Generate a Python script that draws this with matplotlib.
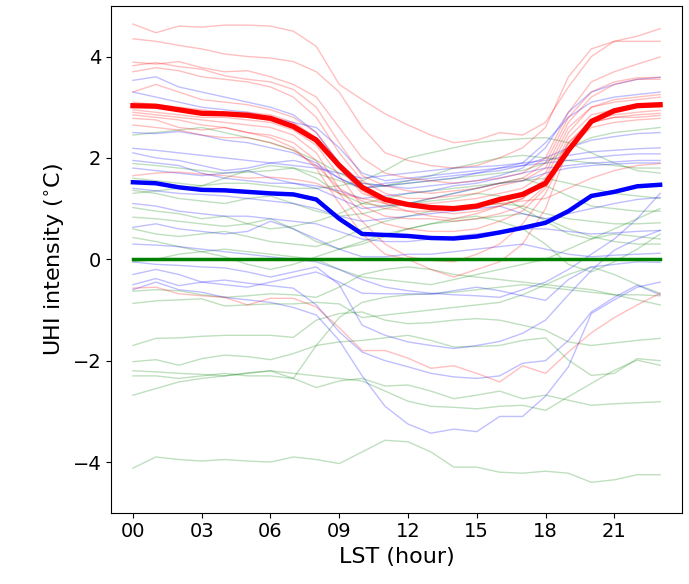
import numpy as np
import matplotlib
matplotlib.use("Agg")
import matplotlib.pyplot as plt

# hours of the day (LST)
hours = np.arange(24)
xtick_pos = [0, 3, 6, 9, 12, 15, 18, 21]
xtick_labels = ['00', '03', '06', '09', '12', '15', '18', '21']

# mean diurnal curves (thick lines)
red_mean = [3.03, 3.02, 2.95, 2.88, 2.87, 2.84, 2.78, 2.62, 2.35, 1.85, 1.42, 1.18,
            1.08, 1.02, 1.0, 1.05, 1.18, 1.28, 1.5, 2.15, 2.72, 2.93, 3.03, 3.05]
blue_mean = [1.52, 1.5, 1.42, 1.37, 1.36, 1.33, 1.3, 1.28, 1.18, 0.8, 0.5, 0.48,
             0.46, 0.42, 0.41, 0.45, 0.53, 0.62, 0.72, 0.95, 1.25, 1.33, 1.44, 1.47]
green_mean = [0.0] * 24

# individual stations, red group
red_lines = [
    [4.64, 4.47, 4.6, 4.58, 4.62, 4.62, 4.6, 4.5, 4.2, 3.45, 3.15, 2.87, 2.65, 2.45, 2.3, 2.35, 2.5, 2.45, 2.7, 3.4, 4.0, 4.3, 4.4, 4.55],
    [4.35, 4.3, 4.22, 4.15, 4.05, 4.0, 3.97, 3.9, 3.7, 3.3, 2.6, 2.1, 1.95, 1.85, 1.8, 1.85, 2.0, 2.2, 2.6, 3.6, 4.15, 4.3, 4.3, 4.3],
    [3.89, 3.85, 3.9, 3.78, 3.7, 3.72, 3.6, 3.45, 3.2, 2.6, 2.0, 1.7, 1.6, 1.55, 1.5, 1.55, 1.6, 1.7, 2.0, 2.9, 3.5, 3.7, 3.85, 3.99],
    [3.82, 3.88, 3.8, 3.75, 3.62, 3.55, 3.5, 3.35, 3.0, 2.3, 1.65, 1.45, 1.35, 1.3, 1.35, 1.4, 1.5, 1.6, 1.9, 2.8, 3.3, 3.5, 3.58, 3.59],
    [3.7, 3.78, 3.72, 3.6, 3.55, 3.5, 3.4, 3.2, 2.8, 2.1, 1.55, 1.3, 1.2, 1.2, 1.25, 1.3, 1.45, 1.55, 1.8, 2.7, 3.2, 3.45, 3.55, 3.55],
    [3.3, 3.45, 3.3, 3.15, 3.1, 3.05, 2.95, 2.8, 2.5, 1.9, 1.35, 1.1, 0.95, 0.85, 0.8, 0.9, 1.05, 1.2, 1.6, 2.5, 3.0, 3.15, 3.2, 3.25],
    [2.9, 2.85, 2.8, 2.75, 2.7, 2.65, 2.6, 2.45, 2.1, 1.4, 0.9, 0.7, 0.6, 0.55, 0.55, 0.6, 0.75, 0.95, 1.4, 2.3, 2.75, 2.85, 2.9, 2.94],
    [2.85, 2.8, 2.75, 2.65, 2.6, 2.5, 2.4, 2.2, 1.8, 1.1, 0.5, 0.1, 0.0, -0.2, -0.35, -0.2, -0.05, 0.3, 1.0, 2.2, 2.7, 2.8, 2.8, 2.84],
    [2.78, 2.75, 2.6, 2.55, 2.6, 2.5, 2.45, 2.3, 1.95, 1.3, 0.75, 0.3, 0.05, -0.02, -0.05, 0.1, 0.3, 0.7, 1.3, 2.2, 2.6, 2.7, 2.75, 2.78],
    [2.65, 2.6, 2.55, 2.45, 2.4, 2.4, 2.3, 2.15, 1.85, 1.4, 1.15, 1.0, 0.95, 0.95, 0.9, 0.95, 1.05, 1.2, 1.5, 2.3, 2.7, 2.8, 2.85, 2.88],
    [1.65, 1.7, 1.72, 1.68, 1.65, 1.6, 1.62, 1.58, 1.5, 1.3, 1.2, 1.1, 1.05, 1.0, 1.0, 1.05, 1.1, 1.15, 1.2, 1.4, 1.6, 1.75, 1.85, 1.89],
    [-0.57, -0.55, -0.68, -0.72, -0.75, -0.9, -0.77, -0.77, -0.94, -1.35, -1.8, -1.8, -1.95, -2.15, -2.1, -2.25, -2.42, -2.1, -2.25, -1.83, -1.45, -1.15, -0.9, -0.67],
    [3.1, 3.05, 3.0, 2.95, 2.9, 2.9, 2.85, 2.7, 2.4, 1.8, 1.3, 1.15, 1.1, 1.1, 1.15, 1.2, 1.3, 1.4, 1.7, 2.6, 3.0, 3.1, 3.15, 3.2],
    [2.95, 2.9, 2.85, 2.8, 2.8, 2.75, 2.7, 2.55, 2.25, 1.65, 1.05, 0.85, 0.8, 0.8, 0.75, 0.8, 0.9, 1.05, 1.45, 2.4, 2.85, 2.95, 3.0, 3.0],
]

# individual stations, blue group
blue_lines = [
    [-0.6, -0.45, -0.6, -0.65, -0.75, -0.8, -0.85, -0.95, -1.1, -1.6, -2.3, -2.9, -3.25, -3.43, -3.35, -3.4, -3.1, -3.1, -2.7, -2.12, -1.07, -0.8, -0.55, -0.45],
    [-0.5, -0.38, -0.52, -0.45, -0.41, -0.47, -0.52, -0.57, -0.9, -1.43, -1.83, -2.0, -2.12, -2.25, -2.32, -2.35, -2.3, -2.05, -2.0, -1.6, -1.04, -0.75, -0.51, -0.7],
    [-0.05, -0.1, -0.12, -0.15, -0.17, -0.25, -0.35, -0.25, -0.15, -0.5, -1.3, -1.5, -1.63, -1.7, -1.76, -1.7, -1.62, -1.46, -1.2, -0.7, -0.22, 0.18, 0.4, 0.57],
    [-0.3, -0.2, -0.3, -0.45, -0.5, -0.55, -0.45, -0.35, -0.25, -0.45, -0.67, -0.68, -0.68, -0.69, -0.62, -0.55, -0.62, -0.72, -0.81, -0.4, -0.15, -0.1, -0.05, -0.06],
    [3.53, 3.6, 3.4, 3.3, 3.2, 3.1, 3.0, 2.85, 2.5, 1.9, 1.5, 1.45, 1.4, 1.45, 1.5, 1.55, 1.65, 1.8, 2.2, 2.9, 3.3, 3.45, 3.55, 3.59],
    [3.3, 3.2, 3.1, 3.0, 2.95, 2.9, 2.8, 2.7, 2.6, 2.2, 1.7, 1.55, 1.6, 1.65, 1.7, 1.75, 1.8, 1.9, 2.3, 2.8, 3.1, 3.2, 3.25, 3.3],
    [2.5, 2.48, 2.52, 2.45, 2.35, 2.3, 2.2, 2.1, 1.9, 1.6, 1.4, 1.5, 1.55, 1.6, 1.65, 1.7, 1.75, 1.85, 2.0, 2.2, 2.35, 2.42, 2.48, 2.5],
    [2.19, 2.15, 2.1, 2.05, 2.0, 1.95, 1.9, 1.85, 1.8, 1.7, 1.6, 1.65, 1.7, 1.75, 1.8, 1.82, 1.85, 1.9, 1.95, 2.05, 2.12, 2.15, 2.18, 2.2],
    [2.1, 2.0, 1.95, 1.85, 1.75, 1.8, 1.9, 1.95, 1.85, 1.6, 1.4, 1.45, 1.5, 1.55, 1.6, 1.7, 1.8, 1.85, 1.9, 1.95, 2.0, 2.05, 2.08, 2.08],
    [1.95, 1.9, 1.85, 1.7, 1.6, 1.55, 1.5, 1.5, 1.45, 1.35, 1.2, 1.25, 1.3, 1.35, 1.45, 1.5, 1.6, 1.7, 1.8, 1.85, 1.9, 1.92, 1.95, 1.95],
    [1.8, 1.75, 1.7, 1.65, 1.7, 1.75, 1.6, 1.5, 1.4, 1.2, 1.0, 1.05, 1.1, 1.2, 1.3, 1.4, 1.5, 1.55, 1.7, 1.8, 1.85, 1.88, 1.9, 1.9],
    [1.4, 1.35, 1.3, 1.28, 1.25, 1.2, 1.15, 1.1, 1.0, 0.85, 0.75, 0.8, 0.85, 0.9, 0.95, 1.0, 1.05, 0.9, 0.8, 0.9, 1.0, 1.1, 1.18, 1.22],
    [1.1, 1.05, 0.95, 0.9, 0.85, 0.85, 0.8, 0.75, 0.7, 0.55, 0.4, 0.35, 0.35, 0.4, 0.45, 0.5, 0.55, 0.6, 0.6, 0.55, 0.5, 0.52, 0.55, 0.57],
    [0.63, 0.7, 0.6, 0.55, 0.5, 0.55, 0.75, 0.6, 0.4, 0.2, 0.05, 0.05, 0.1, 0.1, 0.15, 0.2, 0.25, 0.3, 0.2, 0.1, 0.05, 0.08, 0.1, 0.12],
    [0.3, 0.28, 0.25, 0.2, 0.15, 0.1, 0.05, 0.0, -0.05, -0.2, -0.4, -0.55, -0.62, -0.67, -0.7, -0.72, -0.75, -0.6, -0.45, -0.2, 0.1, 0.4, 0.8, 1.3],
]

# individual stations, green group
green_lines = [
    [-4.12, -3.9, -3.95, -3.98, -3.95, -3.98, -4.0, -3.9, -3.95, -4.03, -3.8, -3.57, -3.6, -3.8, -4.1, -4.1, -4.2, -4.22, -4.18, -4.22, -4.4, -4.35, -4.25, -4.25],
    [-1.7, -1.56, -1.55, -1.52, -1.5, -1.5, -1.5, -1.54, -1.2, -1.07, -1.04, -1.2, -1.27, -1.25, -1.2, -1.17, -1.2, -1.3, -1.4, -1.63, -1.7, -1.65, -1.6, -1.56],
    [-2.02, -1.98, -2.09, -1.96, -1.89, -1.92, -1.98, -1.86, -1.7, -1.63, -1.6, -1.55, -1.5, -1.6, -1.73, -1.72, -1.7, -1.6, -1.55, -1.99, -2.29, -2.25, -1.96, -2.0],
    [-2.2, -2.22, -2.25, -2.27, -2.3, -2.24, -2.2, -2.35, -2.53, -2.4, -2.35, -2.5, -2.48, -2.6, -2.75, -2.68, -2.6, -2.75, -2.68, -2.78, -2.88, -2.85, -2.83, -2.81],
    [-2.3, -2.3, -2.35, -2.3, -2.25, -2.3, -2.3, -2.35, -1.7, -1.15, -0.85, -0.75, -0.7, -0.68, -0.65, -0.6, -0.55, -0.5, -0.55, -0.6, -0.65, -0.7, -0.7, -0.72],
    [-2.68, -2.55, -2.42, -2.35, -2.3, -2.25, -2.2, -2.25, -2.3, -2.35, -2.4, -2.6, -2.8, -2.9, -2.92, -2.95, -2.9, -2.88, -2.98, -2.71, -2.45, -2.19, -1.99, -2.09],
    [-0.63, -0.6, -0.62, -0.7, -0.75, -0.72, -0.68, -0.7, -0.75, -0.55, -0.3, -0.2, -0.15, -0.2, -0.3, -0.35, -0.4, -0.45, -0.5, -0.55, -0.6, -0.7, -0.8, -0.9],
    [-0.87, -0.82, -0.8, -0.78, -0.92, -0.9, -0.88, -0.88, -0.85, -0.88, -1.15, -1.1, -1.05, -1.0, -0.95, -0.9, -0.85, -0.7, -0.5, -0.3, -0.15, -0.3, -0.5, -0.67],
    [-0.05, 0.0, 0.1, 0.15, 0.2, 0.15, 0.1, 0.05, 0.0, -0.2, -0.35, -0.4, -0.45, -0.5, -0.4, -0.3, -0.2, -0.1, 0.0, 0.2, 0.4, 0.5, 0.45, 0.4],
    [2.45, 2.5, 2.55, 2.6, 2.5, 2.4, 2.3, 2.15, 1.95, 1.7, 1.5, 1.45, 1.5, 1.55, 1.6, 1.65, 1.7, 1.75, 1.9, 2.2, 2.4, 2.5, 2.55, 2.6],
    [1.89, 1.85, 1.8, 1.75, 1.7, 1.72, 1.75, 1.8, 1.7, 1.55, 1.4, 1.45, 1.55, 1.65, 1.8, 1.9, 2.0, 2.05, 2.0, 1.95, 1.9, 1.85, 1.8, 1.8],
    [1.3, 1.35, 1.4, 1.45, 1.5, 1.5, 1.45, 1.4, 1.4, 1.45, 1.55, 1.75, 2.0, 2.1, 2.2, 2.3, 2.35, 2.38, 2.4, 2.3, 2.1, 1.9, 1.75, 1.7],
    [1.36, 1.3, 1.2, 1.15, 1.1, 1.2, 1.25, 1.1, 0.95, 0.85, 0.9, 1.0, 1.1, 1.2, 1.3, 1.4, 1.5, 1.55, 1.6, 1.5, 1.4, 1.3, 1.25, 1.2],
    [1.02, 0.95, 0.9, 0.8, 0.85, 0.7, 0.6, 0.65, 0.75, 0.9, 1.1, 1.2, 1.3, 1.35, 1.4, 1.45, 1.5, 1.6, 1.45, 1.25, 1.05, 1.0, 0.95, 0.95],
    [0.83, 0.8, 0.75, 0.7, 0.65, 0.7, 0.8, 0.6, 0.35, 0.2, 0.3, 0.45, 0.6, 0.7, 0.75, 0.8, 0.85, 0.9, 0.8, 0.6, 0.45, 0.35, 0.3, 0.3],
    [0.6, 0.5, 0.45, 0.5, 0.55, 0.45, 0.35, 0.3, 0.25, 0.4, 0.6, 0.75, 0.85, 0.95, 1.0, 1.05, 1.1, 1.05, 0.9, 0.8, 0.75, 0.7, 0.7, 0.72],
    [0.43, 0.35, 0.25, 0.15, 0.05, -0.1, -0.2, -0.1, 0.05, 0.2, 0.35, 0.5, 0.6, 0.7, 0.8, 0.85, 0.75, 0.6, 0.3, -0.1, -0.25, -0.05, 0.2, 0.5],
    [1.6, 1.55, 1.5, 1.45, 1.6, 1.75, 1.85, 1.8, 1.6, 1.3, 1.1, 1.05, 1.1, 1.15, 1.2, 1.3, 1.25, 1.0, 0.75, 0.5, 0.4, 0.6, 0.8, 1.0],
]

fig = plt.figure(figsize=(6.89, 5.84), dpi=100)
ax = fig.add_axes([0.161, 0.122, 0.829, 0.868])

for line in green_lines:
    ax.plot(hours, line, color='g', lw=1, alpha=0.25)
for line in blue_lines:
    ax.plot(hours, line, color='b', lw=1, alpha=0.25)
for line in red_lines:
    ax.plot(hours, line, color='r', lw=1, alpha=0.25)

ax.plot(hours, green_mean, color='g', lw=2.5)
ax.plot(hours, blue_mean, color='b', lw=3.2)
ax.plot(hours, red_mean, color='r', lw=3.8)

ax.set_xlim(-0.96, 23.96)
ax.set_ylim(-5, 5)
ax.set_xticks(xtick_pos)
ax.set_xticklabels(xtick_labels)
ax.set_yticks([-4, -2, 0, 2, 4])
ax.tick_params(labelsize=14)
ax.set_xlabel('LST (hour)', fontsize=16)
ax.set_ylabel(r'UHI intensity ($^{\circ}$C)', fontsize=16)

fig.savefig('out.png', dpi=100)
